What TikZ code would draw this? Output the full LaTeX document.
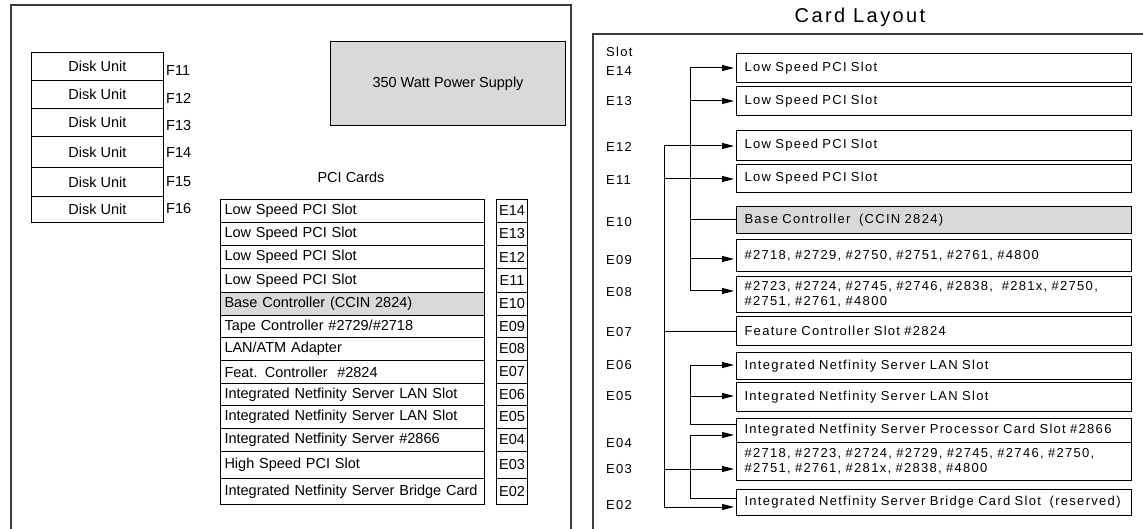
\documentclass[tikz,border=0pt]{standalone}
\usepackage{fontspec}
\setmainfont{Liberation Sans}
\newfontfamily\rfont[LetterSpace=10]{Liberation Sans}
\newfontfamily\tfont[LetterSpace=12]{Liberation Sans}
\usetikzlibrary{arrows.meta}
\definecolor{fillg}{RGB}{217,217,217}
\definecolor{framec}{RGB}{60,60,60}
\newcommand\leftfs{\fontsize{14.5}{17}\selectfont}
\newcommand\rightfs{\fontsize{13}{15}\selectfont}
\newcommand\titlefs{\fontsize{20}{23}\selectfont}
\tikzset{
  frame/.style={draw=framec, line width=1.4pt},
  box/.style={draw, line width=1pt, anchor=north west, inner ysep=0pt},
  disk/.style={box, minimum width=132pt, align=center, font=\leftfs},
  flab/.style={anchor=west, inner sep=0pt, font=\leftfs},
  lrow/.style={box, minimum width=264pt, text width=256pt, inner xsep=4pt, align=left, font=\leftfs},
  ebox/.style={box, minimum width=31pt, inner xsep=0pt, font=\leftfs},
  slab/.style={anchor=west, inner sep=0pt, font=\rfont\rightfs},
  rbox/.style={box, minimum width=395pt, text width=379pt, inner xsep=8pt, align=left, font=\rfont\rightfs},
  conn/.style={line width=1pt},
  arr/.style={line width=1pt, -{Triangle[length=12pt,width=6pt]}, shorten >=2pt}
}
\begin{document}
\begin{tikzpicture}[x=1pt,y=-1pt]
\useasboundingbox (0,0) rectangle (1143,529);
% ---------- left panel ----------
\draw[frame] (11,529) -- (11,5) -- (571,5) -- (571,529);
\node[disk, minimum height=28pt] (d1) at (31,52) {Disk Unit};
\node[disk, minimum height=28pt] (d2) at (31,80) {Disk Unit};
\node[disk, minimum height=28pt] (d3) at (31,108) {Disk Unit};
\node[disk, minimum height=31pt] (d4) at (31,136) {Disk Unit};
\node[disk, minimum height=29pt] (d5) at (31,167) {Disk Unit};
\node[disk, minimum height=26pt] (d6) at (31,196) {Disk Unit};
\node[flab] (f1) at (166,71) {F11};
\node[flab] (f2) at (166,98) {F12};
\node[flab] (f3) at (166,126) {F13};
\node[flab] (f4) at (166,153) {F14};
\node[flab] (f5) at (166,182) {F15};
\node[flab] (f6) at (166,209) {F16};
\node[box, fill=fillg, minimum width=235pt, minimum height=84pt, font=\leftfs] (ps) at (330,41) {350 Watt Power Supply};
\node[font=\leftfs] (pcit) at (351,177) {PCI Cards};
\node[lrow, minimum height=23pt] (p14) at (220,199) {Low Speed PCI Slot};
\node[lrow, minimum height=23pt] (p13) at (220,222) {Low Speed PCI Slot};
\node[lrow, minimum height=23pt] (p12) at (220,245) {Low Speed PCI Slot};
\node[lrow, minimum height=24pt] (p11) at (220,268) {Low Speed PCI Slot};
\node[lrow, minimum height=23pt, fill=fillg] (p10) at (220,292) {Base Controller (CCIN 2824)};
\node[lrow, minimum height=22pt] (p09) at (220,315) {Tape Controller \#2729/\#2718};
\node[lrow, minimum height=23pt] (p08) at (220,337) {LAN/ATM Adapter};
\node[lrow, minimum height=23pt] (p07) at (220,360) {Feat. Controller\ \ \#2824};
\node[lrow, minimum height=22pt] (p06) at (220,383) {Integrated Netfinity Server LAN Slot};
\node[lrow, minimum height=23pt] (p05) at (220,405) {Integrated Netfinity Server LAN Slot};
\node[lrow, minimum height=23pt] (p04) at (220,428) {Integrated Netfinity Server \#2866};
\node[lrow, minimum height=27pt] (p03) at (220,451) {High Speed PCI Slot};
\node[lrow, minimum height=26pt] (p02) at (220,478) {Integrated Netfinity Server Bridge Card};
\node[ebox, minimum height=23pt] (e14) at (496,199) {E14};
\node[ebox, minimum height=23pt] (e13) at (496,222) {E13};
\node[ebox, minimum height=23pt] (e12) at (496,245) {E12};
\node[ebox, minimum height=24pt] (e11) at (496,268) {E11};
\node[ebox, minimum height=23pt] (e10) at (496,292) {E10};
\node[ebox, minimum height=22pt] (e09) at (496,315) {E09};
\node[ebox, minimum height=23pt] (e08) at (496,337) {E08};
\node[ebox, minimum height=23pt] (e07) at (496,360) {E07};
\node[ebox, minimum height=22pt] (e06) at (496,383) {E06};
\node[ebox, minimum height=23pt] (e05) at (496,405) {E05};
\node[ebox, minimum height=23pt] (e04) at (496,428) {E04};
\node[ebox, minimum height=27pt] (e03) at (496,451) {E03};
\node[ebox, minimum height=26pt] (e02) at (496,478) {E02};
% ---------- right panel ----------
\node[font=\tfont\titlefs] (title) at (860,17) {Card Layout};
\draw[frame] (593,529) -- (593,34) -- (1143,34);
\node[slab] (sl) at (606,52) {Slot};
\node[slab] (s14) at (606,71) {E14};
\node[slab] (s13) at (606,101) {E13};
\node[slab] (s12) at (606,147) {E12};
\node[slab] (s11) at (606,180) {E11};
\node[slab] (s10) at (606,222) {E10};
\node[slab] (s09) at (606,260) {E09};
\node[slab] (s08) at (606,292) {E08};
\node[slab] (s07) at (606,332) {E07};
\node[slab] (s06) at (606,365) {E06};
\node[slab] (s05) at (606,396) {E05};
\node[slab] (s04) at (606,443) {E04};
\node[slab] (s03) at (606,469) {E03};
\node[slab] (s02) at (606,505) {E02};
\node[rbox, minimum height=29pt] (r14) at (736,53) {Low Speed PCI Slot};
\node[rbox, minimum height=29pt] (r13) at (736,86) {Low Speed PCI Slot};
\node[rbox, minimum height=30pt] (r12) at (736,130) {Low Speed PCI Slot};
\node[rbox, minimum height=28pt] (r11) at (736,164) {Low Speed PCI Slot};
\node[rbox, minimum height=27pt, fill=fillg] (r10) at (736,206) {Base Controller\ \ (CCIN 2824)};
\node[rbox, minimum height=32pt] (r09) at (736,239) {\#2718, \#2729, \#2750, \#2751, \#2761, \#4800};
\node[rbox, minimum height=36pt] (r08) at (736,276) {\#2723, \#2724, \#2745, \#2746, \#2838,\ \ \#281x, \#2750,\\\#2751, \#2761, \#4800};
\node[rbox, minimum height=29pt] (r07) at (736,316) {Feature Controller Slot \#2824};
\node[rbox, minimum height=27pt] (r06) at (736,352) {Integrated Netfinity Server LAN Slot};
\node[rbox, minimum height=29pt] (r05) at (736,382) {Integrated Netfinity Server LAN Slot};
\node[rbox, minimum height=24pt] (rpt) at (736,418) {Integrated Netfinity Server Processor Card Slot \#2866};
\node[rbox, minimum height=38pt] (rpb) at (736,442) {\#2718, \#2723, \#2724, \#2729, \#2745, \#2746, \#2750,\\\#2751, \#2761, \#281x, \#2838, \#4800};
\node[rbox, minimum height=26pt] (rbr) at (736,489) {Integrated Netfinity Server Bridge Card Slot\ \ (reserved)};
% connectors: upper group
\coordinate (a14) at (690,68);
\coordinate (a13) at (690,101);
\coordinate (a10) at (690,220);
\coordinate (a09) at (690,259);
\coordinate (a08) at (690,291);
\draw[conn] (a14) -- (a08);
\draw[arr] (a14) -- (a14 -| r14.west);
\draw[arr] (a13) -- (a13 -| r13.west);
\draw[conn] (a10) -- (a10 -| r10.west);
\draw[arr] (a09) -- (a09 -| r09.west);
\draw[arr] (a08) -- (a08 -| r08.west);
% long left bus
\coordinate (b12) at (664,146);
\coordinate (b11) at (664,179);
\coordinate (b07) at (664,331);
\coordinate (b03) at (664,469);
\coordinate (b02) at (664,507);
\draw[conn] (b12) -- (b02);
\draw[arr] (b12) -- (b12 -| r12.west);
\draw[arr] (b11) -- (b11 -| r11.west);
\draw[conn] (b07) -- (b07 -| r07.west);
\draw[arr] (b03) -- (b03 -| rpb.west);
\draw[arr] (b02) -- (b02 -| rbr.west);
% LAN group
\coordinate (c06) at (690,365);
\coordinate (c05) at (690,396);
\coordinate (c04) at (690,424);
\draw[conn] (c06) -- (c04);
\draw[arr] (c06) -- (c06 -| r06.west);
\draw[arr] (c05) -- (c05 -| r05.west);
\draw[conn] (c04) -- (c04 -| rpt.west);
% bridge group
\coordinate (g04) at (690,435);
\coordinate (g02) at (690,498);
\draw[conn] (g04) -- (g02);
\draw[arr] (g04) -- (g04 -| rpt.west);
\draw[conn] (g02) -- (g02 -| rbr.west);
\end{tikzpicture}
\end{document}
